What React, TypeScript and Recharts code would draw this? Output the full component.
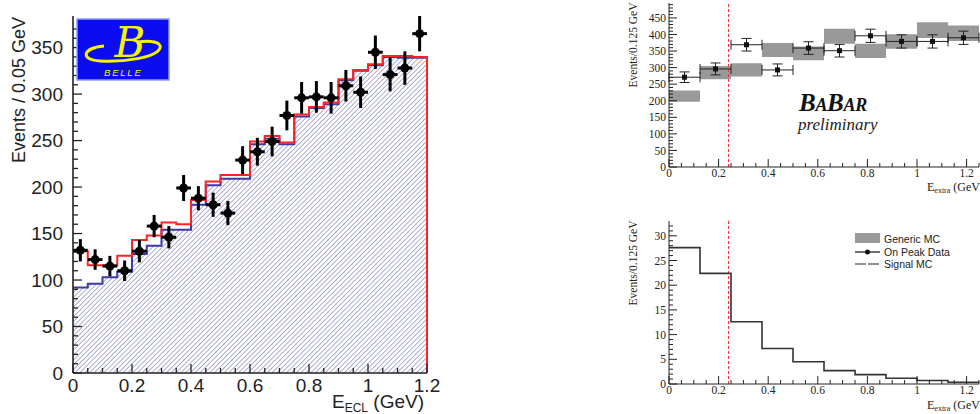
import React from 'react';
import { ComposedChart, Area, Line, Scatter, ErrorBar, XAxis, YAxis, ReferenceLine } from 'recharts';

// ---------- Belle panel (left) ----------
const belleEdges = [0, 0.05, 0.1, 0.15, 0.2, 0.25, 0.3, 0.35, 0.4, 0.45, 0.5, 0.55, 0.6, 0.65, 0.7, 0.75, 0.8, 0.85, 0.9, 0.95, 1.0, 1.05, 1.1, 1.15, 1.2];
const belleCenters = [0.025, 0.075, 0.125, 0.175, 0.225, 0.275, 0.325, 0.375, 0.425, 0.475, 0.525, 0.575, 0.625, 0.675, 0.725, 0.775, 0.825, 0.875, 0.925, 0.975, 1.025, 1.075, 1.125, 1.175];
const belleTotal = [131, 116, 116, 126, 143, 148, 162, 160, 186, 206, 213, 213, 249, 255, 248, 278, 286, 291, 316, 326, 332, 341, 341, 340];
const belleBkg = [92, 96, 103, 109, 128, 137, 154, 154, 181, 202, 209, 209, 246, 252, 246, 276, 285, 289, 315, 325, 331, 340, 339, 339];
const belleData = [132, 122, 115, 110, 131, 158, 146, 199, 188, 181, 172, 229, 238, 249, 277, 296, 297, 296, 309, 302, 345, 321, 328, 365];
const belleErr = [12, 11, 11, 11, 12, 12, 12, 14, 13, 13, 13, 15, 15, 16, 16, 17, 17, 17, 17, 17, 18, 18, 18, 19];
const belleXMajor = [0, 0.2, 0.4, 0.6, 0.8, 1, 1.2];
const belleXLabels = ['0', '0.2', '0.4', '0.6', '0.8', '1', '1.2'];
const belleYMajor = [0, 50, 100, 150, 200, 250, 300, 350];
const belleYLabels = ['0', '50', '100', '150', '200', '250', '300', '350'];

// ---------- BaBar panels (right) ----------
const babarEdges = [0, 0.125, 0.25, 0.375, 0.5, 0.625, 0.75, 0.875, 1.0, 1.125, 1.25];
const babarCenters = [0.0625, 0.1875, 0.3125, 0.4375, 0.5625, 0.6875, 0.8125, 0.9375, 1.0625, 1.1875];
const genericLow = [197, 265, 273, 332, 322, 372, 329, 357, 389, 380];
const genericHigh = [231, 305, 313, 374, 364, 417, 372, 401, 437, 427];
const onPeak = [271, 296, 369, 293, 359, 351, 396, 379, 379, 390];
const onPeakErr = [16, 18, 19, 18, 19, 19, 20, 20, 20, 20];
const signalMC = [27.6, 22.4, 12.6, 7.2, 4.5, 2.7, 1.9, 1.15, 0.7, 0.35];
const babarXMajor = [0, 0.2, 0.4, 0.6, 0.8, 1, 1.2];
const babarXLabels = ['0', '0.2', '0.4', '0.6', '0.8', '1', '1.2'];
const topYMajor = [0, 50, 100, 150, 200, 250, 300, 350, 400, 450];
const topYLabels = ['0', '50', '100', '150', '200', '250', '300', '350', '400', '450'];
const botYMajor = [0, 5, 10, 15, 20, 25, 30];
const botYLabels = ['0', '5', '10', '15', '20', '25', '30'];
const cutValue = 0.24;

const SANS = 'Liberation Sans, Arial, sans-serif';
const SERIF = 'Liberation Serif, Times New Roman, serif';

// minor tick positions (axis decoration only)
const tickGrid = (n: number, step: number) => {
  const out: number[] = [];
  for (let i = 0; i <= n; i++) out.push(Math.round(i * step * 1000) / 1000);
  return out;
};

const stepRows = (edges: number[], vals: number[]) => [
  ...vals.map((v, i) => ({ x: edges[i], v })),
  { x: edges[edges.length - 1], v: vals[vals.length - 1] },
];

const belleRed = [...stepRows(belleEdges, belleTotal), { x: 1.2, v: 0 }];
const belleBlue = stepRows(belleEdges, belleBkg);
const bellePoints = belleCenters.map((x, i) => ({ x, y: belleData[i], ey: belleErr[i], ex: 0.025 }));

const genericRows = [
  ...genericLow.map((lo, i) => ({ x: babarEdges[i], band: [lo, genericHigh[i]] })),
  { x: 1.25, band: [genericLow[9], genericHigh[9]] },
];
const peakPoints = babarCenters.map((x, i) => ({ x, y: onPeak[i], ey: onPeakErr[i], ex: 0.0625 }));
const signalRows = stepRows(babarEdges, signalMC);

type TickOpts = {
  side: 'left' | 'right' | 'top' | 'bottom';
  majors: number[];
  labels?: string[];
  major: number;
  minor: number;
  off?: number;
  size?: number;
  font?: string;
  stroke: string;
  sw: number;
};

const tickFactory = (o: TickOpts) => (p: any) => {
  const { x, y, payload } = p;
  const i = o.majors.findIndex((m) => Math.abs(m - payload.value) < 1e-6);
  const len = i >= 0 ? o.major : o.minor;
  const x2 = o.side === 'left' ? x + len : o.side === 'right' ? x - len : x;
  const y2 = o.side === 'bottom' ? y - len : o.side === 'top' ? y + len : y;
  const showLabel = i >= 0 && o.labels;
  return (
    <g>
      <line x1={x} y1={y} x2={x2} y2={y2} stroke={o.stroke} strokeWidth={o.sw} />
      {showLabel && o.side === 'left' && (
        <text x={x - (o.off || 0)} y={y + (o.size || 10) * 0.36} textAnchor="end" fontSize={o.size} fontFamily={o.font} fill="#222">
          {o.labels![i]}
        </text>
      )}
      {showLabel && o.side === 'bottom' && (
        <text x={x} y={y + (o.off || 0)} textAnchor="middle" fontSize={o.size} fontFamily={o.font} fill="#222">
          {o.labels![i]}
        </text>
      )}
    </g>
  );
};

function BelleChart() {
  return (
    <ComposedChart width={440} height={414} margin={{ top: 16, right: 13, bottom: 0, left: 0 }}>
      <defs>
        <pattern id="belleHatch" patternUnits="userSpaceOnUse" width="3.4" height="3.4" patternTransform="rotate(45)">
          <rect width="3.4" height="3.4" fill="#ffffff" />
          <line x1="0" y1="0" x2="0" y2="3.4" stroke="#5c5cac" strokeWidth="1" />
        </pattern>
      </defs>
      <XAxis
        type="number"
        dataKey="x"
        domain={[0, 1.2]}
        ticks={tickGrid(24, 0.05)}
        interval={0}
        height={41}
        tickSize={0}
        tickMargin={0}
        tickLine={false}
        axisLine={{ stroke: '#222', strokeWidth: 1.5 }}
        tick={tickFactory({ side: 'bottom', majors: belleXMajor, labels: belleXLabels, major: 9, minor: 5, off: 19, size: 19, font: SANS, stroke: '#222', sw: 1.3 })}
      />
      <XAxis xAxisId="top" orientation="top" type="number" domain={[0, 1.2]} height={0} tick={false} tickLine={false} axisLine={{ stroke: '#777', strokeWidth: 1.2 }} />
      <YAxis
        type="number"
        domain={[0, 378]}
        ticks={tickGrid(37, 10)}
        interval={0}
        width={73}
        tickSize={0}
        tickMargin={0}
        tickLine={false}
        axisLine={{ stroke: '#222', strokeWidth: 1.6 }}
        tick={tickFactory({ side: 'left', majors: belleYMajor, labels: belleYLabels, major: 9, minor: 5, off: 10, size: 19, font: SANS, stroke: '#222', sw: 1.3 })}
      />
      <YAxis yAxisId="right" orientation="right" type="number" domain={[0, 378]} width={0} tick={false} tickLine={false} axisLine={{ stroke: '#777', strokeWidth: 1.2 }} />
      <Area
        data={belleBlue}
        dataKey="v"
        type="stepAfter"
        fill="url(#belleHatch)"
        fillOpacity={1}
        stroke="#3b3ba8"
        strokeWidth={2}
        isAnimationActive={false}
      />
      <Line data={belleRed} dataKey="v" type="stepAfter" stroke="#ff2222" strokeWidth={2} dot={false} isAnimationActive={false} />
      <Scatter
        data={bellePoints}
        dataKey="y"
        isAnimationActive={false}
        shape={(p: any) => <circle cx={p.cx} cy={p.cy} r={4.5} fill="#000" />}
      >
        <ErrorBar dataKey="ey" direction="y" width={0} stroke="#000" strokeWidth={3} />
        <ErrorBar dataKey="ex" direction="x" width={0} stroke="#000" strokeWidth={3} />
      </Scatter>
    </ComposedChart>
  );
}

const rightTicks = (side: TickOpts['side'], majors: number[], labels?: string[]) =>
  tickFactory({ side, majors, labels, major: 8, minor: 4, off: side === 'left' ? 3 : 9.5, size: 11.5, font: SERIF, stroke: '#222', sw: 1 });

function BabarTop() {
  return (
    <ComposedChart width={380} height={200} margin={{ top: 3, right: 21, bottom: 0, left: 0 }}>
      <XAxis
        type="number"
        dataKey="x"
        domain={[0, 1.25]}
        ticks={tickGrid(25, 0.05)}
        interval={0}
        height={33}
        tickSize={0}
        tickMargin={0}
        tickLine={false}
        axisLine={{ stroke: '#222' }}
        tick={rightTicks('bottom', babarXMajor, babarXLabels)}
      />
      <XAxis
        xAxisId="top"
        orientation="top"
        type="number"
        domain={[0, 1.25]}
        ticks={tickGrid(25, 0.05)}
        interval={0}
        height={0}
        tickSize={0}
        tickMargin={0}
        tickLine={false}
        axisLine={{ stroke: '#222' }}
        tick={rightTicks('top', babarXMajor)}
      />
      <YAxis
        type="number"
        domain={[0, 495]}
        ticks={tickGrid(49, 10)}
        interval={0}
        width={49}
        tickSize={0}
        tickMargin={0}
        tickLine={false}
        axisLine={{ stroke: '#222' }}
        tick={rightTicks('left', topYMajor, topYLabels)}
      />
      <YAxis
        yAxisId="right"
        orientation="right"
        type="number"
        domain={[0, 495]}
        ticks={tickGrid(49, 10)}
        interval={0}
        width={0}
        tickSize={0}
        tickMargin={0}
        tickLine={false}
        axisLine={{ stroke: '#222' }}
        tick={rightTicks('right', topYMajor)}
      />
      <Area data={genericRows} dataKey="band" type="stepAfter" fill="#999999" fillOpacity={1} stroke="none" isAnimationActive={false} />
      <ReferenceLine x={cutValue} stroke="#ff3030" strokeDasharray="3 2" strokeWidth={1} />
      <Scatter
        data={peakPoints}
        dataKey="y"
        isAnimationActive={false}
        shape={(p: any) => <rect x={p.cx - 2.5} y={p.cy - 2.5} width={5} height={5} fill="#111" />}
      >
        <ErrorBar dataKey="ey" direction="y" width={5} stroke="#222" strokeWidth={1} />
        <ErrorBar dataKey="ex" direction="x" width={5} stroke="#222" strokeWidth={1} />
      </Scatter>
    </ComposedChart>
  );
}

function BabarBottom() {
  return (
    <ComposedChart width={380} height={204} margin={{ top: 11, right: 21, bottom: 0, left: 0 }}>
      <XAxis
        type="number"
        dataKey="x"
        domain={[0, 1.25]}
        ticks={tickGrid(25, 0.05)}
        interval={0}
        height={30}
        tickSize={0}
        tickMargin={0}
        tickLine={false}
        axisLine={{ stroke: '#222' }}
        tick={rightTicks('bottom', babarXMajor, babarXLabels)}
      />
      <XAxis
        xAxisId="top"
        orientation="top"
        type="number"
        domain={[0, 1.25]}
        ticks={tickGrid(25, 0.05)}
        interval={0}
        height={0}
        tickSize={0}
        tickMargin={0}
        tickLine={false}
        axisLine={{ stroke: '#222' }}
        tick={rightTicks('top', babarXMajor)}
      />
      <YAxis
        type="number"
        domain={[0, 33]}
        ticks={tickGrid(32, 1)}
        interval={0}
        width={49}
        tickSize={0}
        tickMargin={0}
        tickLine={false}
        axisLine={{ stroke: '#222' }}
        tick={rightTicks('left', botYMajor, botYLabels)}
      />
      <YAxis
        yAxisId="right"
        orientation="right"
        type="number"
        domain={[0, 33]}
        ticks={tickGrid(32, 1)}
        interval={0}
        width={0}
        tickSize={0}
        tickMargin={0}
        tickLine={false}
        axisLine={{ stroke: '#222' }}
        tick={rightTicks('right', botYMajor)}
      />
      <ReferenceLine x={cutValue} stroke="#ff3030" strokeDasharray="3 2" strokeWidth={1} />
      <Line data={signalRows} dataKey="v" type="stepAfter" stroke="#333" strokeWidth={1.6} dot={false} isAnimationActive={false} />
    </ComposedChart>
  );
}

export default function App() {
  return (
    <div style={{ position: 'absolute', left: 0, top: 0, width: 980, height: 414, overflow: 'hidden', background: '#fff' }}>
      <div style={{ position: 'absolute', left: 0, top: 0 }}>
        <BelleChart />
      </div>
      <div style={{ position: 'absolute', left: 620, top: 0 }}>
        <BabarTop />
      </div>
      <div style={{ position: 'absolute', left: 620, top: 210 }}>
        <BabarBottom />
      </div>
      <svg width={980} height={414} style={{ position: 'absolute', left: 0, top: 0, pointerEvents: 'none' }}>
        {/* Belle titles */}
        <text transform="translate(25,90) rotate(-90)" textAnchor="middle" fontFamily={SANS} fontSize={18} fill="#222">
          Events / 0.05 GeV
        </text>
        <text x={332} y={408} fontFamily={SANS} fontSize={19} fill="#222">
          E<tspan fontSize={12} dy={4}>ECL</tspan>
          <tspan dy={-4}> (GeV)</tspan>
        </text>
        {/* Belle logo */}
        <rect x={77} y={19} width={92} height={61} fill="#0c0cf0" stroke="#8c9cff" strokeWidth={1.5} />
        <path d="M 104 46 C 82 48, 80 60, 100 61 C 124 62, 156 58, 160 48 C 162 42, 150 40, 138 42" stroke="#f4f400" strokeWidth={3} fill="none" />
        <text x={130} y={57} textAnchor="middle" fontFamily="DejaVu Serif, serif" fontStyle="italic" fontSize={42} fill="#f4f400">
          B
        </text>
        <text x={104} y={76} fontFamily={SANS} fontStyle="italic" fontSize={9.5} letterSpacing={1.8} fill="#f4f400">
          BELLE
        </text>

        {/* BaBar titles */}
        <text transform="translate(637,45) rotate(-90)" textAnchor="middle" fontFamily={SERIF} fontSize={11.5} fill="#222">
          Events/0.125 GeV
        </text>
        <text transform="translate(637,263) rotate(-90)" textAnchor="middle" fontFamily={SERIF} fontSize={11.5} fill="#222">
          Events/0.125 GeV
        </text>
        <text x={927} y={191} fontFamily={SERIF} fontSize={12} fill="#222">
          E<tspan fontSize={8} dy={2}>extra</tspan>
          <tspan dy={-2}> (GeV)</tspan>
        </text>
        <text x={927} y={409} fontFamily={SERIF} fontSize={12} fill="#222">
          E<tspan fontSize={8} dy={2}>extra</tspan>
          <tspan dy={-2}> (GeV)</tspan>
        </text>
        <text x={799} y={111} fontFamily={SERIF} fontStyle="italic" fontWeight="bold" fill="#111" letterSpacing={-0.3}>
          <tspan fontSize={25}>B</tspan>
          <tspan fontSize={18}>A</tspan>
          <tspan fontSize={25}>B</tspan>
          <tspan fontSize={18}>AR</tspan>
        </text>
        <text x={798} y={130} fontFamily={SERIF} fontStyle="italic" fontSize={17} fill="#222">
          preliminary
        </text>

        {/* legend */}
        <rect x={855} y={233} width={25} height={10} fill="#999" />
        <text x={884} y={243} fontFamily={SANS} fontSize={10.5} fill="#222">Generic MC</text>
        <line x1={855} y1={252} x2={880} y2={252} stroke="#111" strokeWidth={1.2} />
        <circle cx={867.5} cy={252} r={2.5} fill="#111" />
        <text x={884} y={255.5} fontFamily={SANS} fontSize={10.5} fill="#222">On Peak Data</text>
        <line x1={855} y1={264} x2={880} y2={264} stroke="#222" strokeWidth={1.2} strokeDasharray="11 2" />
        <text x={884} y={267.5} fontFamily={SANS} fontSize={10.5} fill="#222">Signal MC</text>
      </svg>
    </div>
  );
}
